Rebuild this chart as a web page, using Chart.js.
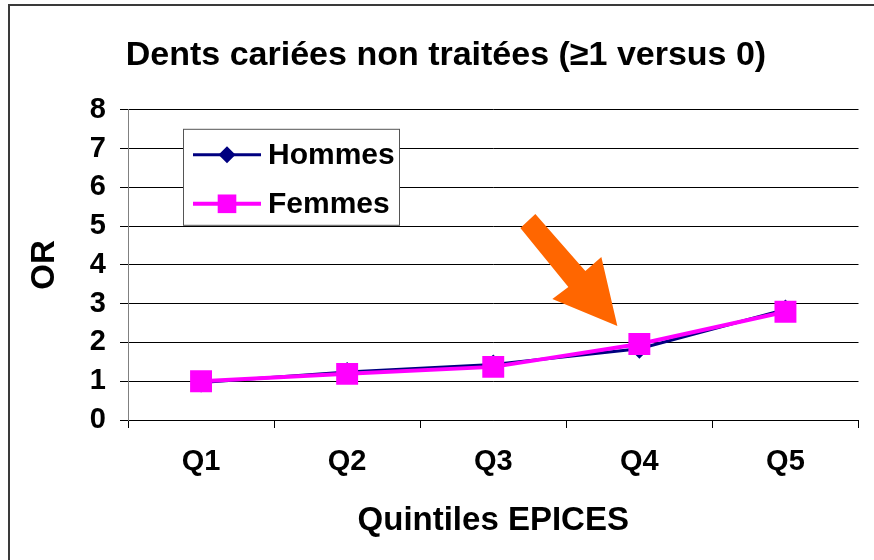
<!DOCTYPE html>
<html>
<head>
<meta charset="utf-8">
<script src="https://cdn.jsdelivr.net/npm/chart.js@4"></script>
<style>
  html, body { margin: 0; padding: 0; background: #fff; }
  #wrap { width: 874px; height: 560px; }
</style>
</head>
<body>
<div id="wrap"><canvas id="myChart"></canvas></div>
<script>
// DATA

const quintiles = ["Q1", "Q2", "Q3", "Q4", "Q5"];
const hommes = [0.97, 1.24, 1.43, 1.84, 2.85];
const femmes = [1.0, 1.19, 1.37, 1.96, 2.79];
const yTicks = [0, 1, 2, 3, 4, 5, 6, 7, 8];

const FONT = "'Liberation Sans', Arial, sans-serif";

// white page + frame (left / top edges only, the rest is cropped)
const framePlugin = {
  id: "frame",
  beforeDraw(chart) {
    const ctx = chart.ctx;
    ctx.save();
    ctx.fillStyle = "#fff";
    ctx.fillRect(0, 0, chart.width, chart.height);
    ctx.strokeStyle = "#3a3a3a";
    ctx.lineWidth = 2;
    ctx.beginPath();
    ctx.moveTo(9, chart.height);
    ctx.lineTo(9, 5);
    ctx.lineTo(chart.width, 5);
    ctx.stroke();
    ctx.restore();
  },
};

// legend box sitting inside the plot area
const boxLegend = {
  id: "boxLegend",
  afterDatasetsDraw(chart) {
    const ctx = chart.ctx;
    const area = chart.chartArea;
    const left = area.left + 55;
    const top = area.top + 19;
    const w = 216;
    const h = 96;
    ctx.save();
    ctx.fillStyle = "#fff";
    ctx.fillRect(left, top, w, h);
    ctx.strokeStyle = "#555";
    ctx.lineWidth = 1;
    ctx.strokeRect(left + 0.5, top + 0.5, w, h);
    ctx.font = "bold 30px " + FONT;
    ctx.textBaseline = "middle";
    chart.data.datasets.forEach(function (ds, i) {
      const y = top + 26 + i * 49;
      ctx.strokeStyle = ds.borderColor;
      ctx.lineWidth = ds.borderWidth;
      ctx.beginPath();
      ctx.moveTo(left + 10, y);
      ctx.lineTo(left + 78, y);
      ctx.stroke();
      ctx.fillStyle = ds.pointBackgroundColor;
      ctx.strokeStyle = ds.pointBackgroundColor;
      Chart.helpers.drawPoint(ctx, { pointStyle: ds.pointStyle, radius: ds.pointRadius * 0.85, rotation: 0, borderWidth: 0 }, left + 44, y);
      ctx.fillStyle = "#000";
      ctx.fillText(ds.label, left + 85, y + 1);
    });
    ctx.restore();
  },
};

// orange arrow pointing at Q4
const arrowPlugin = {
  id: "arrow",
  afterDatasetsDraw(chart) {
    const meta = chart.getDatasetMeta(1);
    const pt = meta.data[3];
    const tx = pt.x - 22;
    const ty = pt.y - 18;
    const shape = [[0, 0], [-16, -69], [-32, -55], [-82, -112], [-97, -98], [-49, -39], [-65, -27]];
    const ctx = chart.ctx;
    ctx.save();
    ctx.fillStyle = "#ff6600";
    ctx.beginPath();
    shape.forEach(function (p, i) {
      if (i === 0) ctx.moveTo(tx + p[0], ty + p[1]);
      else ctx.lineTo(tx + p[0], ty + p[1]);
    });
    ctx.closePath();
    ctx.fill();
    ctx.restore();
  },
};

const ctx = document.getElementById("myChart");

new Chart(ctx, {
  type: "line",
  data: {
    labels: quintiles,
    datasets: [
      {
        label: "Hommes",
        data: hommes,
        borderColor: "#000080",
        backgroundColor: "#000080",
        pointBackgroundColor: "#000080",
        pointBorderColor: "#000080",
        borderWidth: 3,
        pointStyle: "rectRot",
        pointRadius: 10,
        pointBorderWidth: 0,
        tension: 0,
        order: 2,
      },
      {
        label: "Femmes",
        data: femmes,
        borderColor: "#ff00ff",
        backgroundColor: "#ff00ff",
        pointBackgroundColor: "#ff00ff",
        pointBorderColor: "#ff00ff",
        borderWidth: 4,
        pointStyle: "rect",
        pointRadius: 15.5,
        pointBorderWidth: 0,
        tension: 0,
        order: 1,
      },
    ],
  },
  options: {
    responsive: true,
    maintainAspectRatio: false,
    animation: false,
    layout: {
      padding: { left: 18, right: 0, top: 0, bottom: 0 },
    },
    plugins: {
      legend: { display: false },
      tooltip: { enabled: false },
      title: {
        display: true,
        text: "Dents cariées non traitées (≥1 versus 0)",
        color: "#000",
        font: { family: FONT, size: 34, weight: "bold" },
        padding: { top: 35, bottom: 34 },
      },
    },
    scales: {
      x: {
        offset: true,
        grid: {
          offset: true,
          drawOnChartArea: false,
          drawTicks: true,
          tickLength: 8,
          color: "#000",
        },
        border: { display: true, color: "#000" },
        ticks: {
          color: "#000",
          font: { family: FONT, size: 29, weight: "bold" },
          padding: 17,
          maxRotation: 0,
        },
        title: {
          display: true,
          text: "Quintiles EPICES",
          color: "#000",
          font: { family: FONT, size: 33, weight: "bold" },
          padding: { top: 0, bottom: 19 },
        },
        afterFit(scale) {
          scale.height = 140;
        },
      },
      y: {
        min: yTicks[0],
        max: yTicks[yTicks.length - 1],
        afterBuildTicks(scale) {
          scale.ticks = yTicks.map(function (v) { return { value: v }; });
        },
        grid: {
          color: "#000",
          tickColor: "#000",
          tickLength: 8,
        },
        border: { display: true, color: "#808080" },
        ticks: {
          color: "#000",
          font: { family: FONT, size: 29, weight: "bold" },
          padding: 14,
        },
        title: {
          display: true,
          text: "OR",
          color: "#000",
          font: { family: FONT, size: 33, weight: "bold" },
          padding: { top: 7, bottom: 0 },
        },
        afterFit(scale) {
          scale.width = 110;
        },
      },
      y2: {
        position: "right",
        display: true,
        grid: { display: false },
        border: { display: false },
        ticks: { display: false },
        afterFit(scale) {
          scale.width = 7;
        },
      },
    },
  },
  plugins: [framePlugin, boxLegend, arrowPlugin],
});
</script>
</body>
</html>
